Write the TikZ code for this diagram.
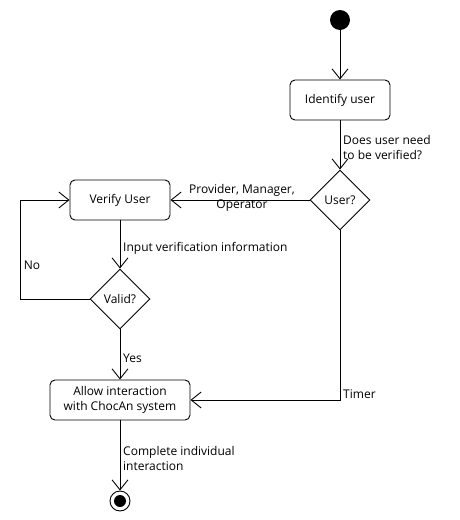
\documentclass[tikz,border=0pt]{standalone}
\usepackage{fontspec}
\setmainfont{Open Sans}
\usetikzlibrary{shapes.geometric,arrows.meta}
\begin{document}
\begin{tikzpicture}[x=1pt,y=-1pt,
  every node/.style={font=\fontsize{12}{15}\selectfont},
  act/.style={draw,rounded corners=5pt,line width=0.9pt,minimum width=100pt,minimum height=40pt,align=center,inner sep=0pt},
  dec/.style={draw,diamond,line width=0.9pt,minimum width=60pt,minimum height=60pt,inner sep=0pt},
  flow/.style={line width=0.9pt,-{Straight Barb[length=10pt,width=16pt,line width=0.9pt]}},
  lbl/.style={align=left,anchor=west,inner sep=0pt},
]
\useasboundingbox (0,0) rectangle (460,520);
\node[circle,fill=black,minimum size=20pt,inner sep=0pt] (start) at (340,20) {};
\node[act] (ident) at (340,100) {Identify user};
\node[dec] (user) at (340,200) {User?};
\node[act] (verify) at (120,200) {Verify User};
\node[dec] (valid) at (120,299) {Valid?};
\node[act,minimum width=140pt] (allow) at (120,400) {Allow interaction\\with ChocAn system};
\node[circle,draw,line width=0.9pt,minimum size=20pt,inner sep=0pt] (end) at (120,501) {};
\node[circle,fill=black,minimum size=12pt,inner sep=0pt] at (end) {};
\coordinate (lt) at (20,200);
\coordinate (lb) at (20,299);
\coordinate (tm) at (340,400);

\draw[flow] (start) -- (ident);
\draw[flow] (ident) -- (user);
\draw[flow] (user) -- (verify);
\draw[flow] (verify) -- (valid);
\draw[flow] (valid.west) -- (lb) -- (lt) -- (verify.west);
\draw[flow] (valid) -- (allow);
\draw[flow] (user.south) -- (tm) -- (allow.east);
\draw[flow] (allow) -- (end);

\node[lbl] (l1) at (343,148) {Does user need\\to be verified?};
\node[align=center,inner sep=0pt] (l2) at (242,198) {Provider, Manager,\\Operator};
\node[lbl] (l3) at (123,248) {Input verification information};
\node[inner sep=0pt] (l4) at (32,265) {No};
\node[lbl] (l5) at (123,358) {Yes};
\node[lbl] (l6) at (343,394) {Timer};
\node[lbl] (l7) at (123,458) {Complete individual\\interaction};
\end{tikzpicture}
\end{document}
